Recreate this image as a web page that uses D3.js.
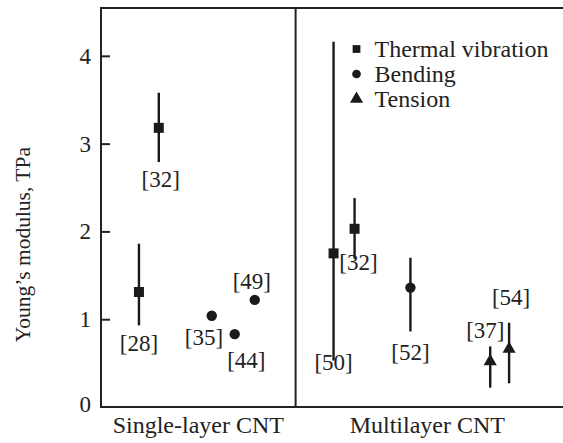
<!DOCTYPE html>
<html>
<head>
<meta charset="utf-8">
<script src="https://cdn.jsdelivr.net/npm/d3@7"></script>
<style>
  body { margin: 0; background: #fff; }
  svg text { font-family: "Liberation Serif", "DejaVu Serif", serif; fill: #222; }
</style>
</head>
<body>
<svg id="chart" width="563" height="443"></svg>
<script>
// measurement points: position along the x axis (0..1 single layer, 1.. multilayer)
var refLabels = ["[28]", "[32]", "[35]", "[44]", "[49]", "[50]", "[32]", "[52]", "[37]", "[54]"];
var methods   = ["thermal", "thermal", "bending", "bending", "bending", "thermal", "thermal", "bending", "tension", "tension"];
var xPos      = [0.195, 0.297, 0.569, 0.687, 0.79, 1.195, 1.303, 1.59, 2.0, 2.097];
var modulus   = [1.31, 3.18, 1.04, 0.83, 1.22, 1.75, 2.03, 1.36, 0.52, 0.66];
var errLow    = [0.93, 2.79, null, null, null, 0.53, 1.69, 0.86, 0.22, 0.27];
var errHigh   = [1.86, 3.58, null, null, null, 4.16, 2.38, 1.70, 0.69, 0.96];
// label offsets (in data units) relative to the point
var labelDx   = [0.0, 0.01, -0.04, 0.06, -0.015, 0.0, 0.02, 0.0, -0.025, 0.01];
var labelDy   = [-0.58, -0.58, -0.24, -0.29, 0.22, -1.24, -0.38, -0.73, 0.36, 0.59];

var categories = ["Single-layer CNT", "Multilayer CNT"];
var categoryX  = [0.5, 1.677];
var yTicks = [0, 1, 2, 3, 4];

var legendItems = [
  {key: "thermal", name: "Thermal vibration"},
  {key: "bending", name: "Bending"},
  {key: "tension", name: "Tension"}
];

var margin = {top: 8, left: 101, bottom: 36, right: 0};
var width = 563, height = 443;

var x = d3.scaleLinear().domain([0, 2.374]).range([margin.left, width - margin.right]);
var y = d3.scaleLinear().domain([0, 4.545]).range([height - margin.bottom, margin.top]);

var svg = d3.select("#chart");

var symbolTypes = {thermal: d3.symbolSquare, bending: d3.symbolCircle, tension: d3.symbolTriangle};
var symbolSizes = {thermal: 100, bending: 85, tension: 75};

// frame: top and bottom lines and the divider
svg.append("line")
  .attr("x1", x(0)).attr("x2", x.range()[1])
  .attr("y1", y.range()[1]).attr("y2", y.range()[1])
  .attr("stroke", "#222").attr("stroke-width", 2);
svg.append("line")
  .attr("x1", x(0)).attr("x2", x.range()[1])
  .attr("y1", y(0)).attr("y2", y(0))
  .attr("stroke", "#222").attr("stroke-width", 2);
svg.append("line")
  .attr("x1", x(1)).attr("x2", x(1))
  .attr("y1", y.range()[1]).attr("y2", y(0))
  .attr("stroke", "#222").attr("stroke-width", 2);

// y axis with inward ticks
var yAxis = d3.axisLeft(y).tickValues(yTicks).tickSize(-9).tickPadding(10).tickFormat(d3.format("d"));
var yg = svg.append("g")
  .attr("transform", "translate(" + x(0) + ",0)")
  .call(yAxis);
yg.select(".domain").remove();
yg.append("line")
  .attr("x1", 0).attr("x2", 0)
  .attr("y1", y.range()[1] - 1).attr("y2", y(0) + 1)
  .attr("stroke", "#222").attr("stroke-width", 2);
yg.selectAll(".tick line").attr("stroke", "#222").attr("stroke-width", 2);
yg.selectAll(".tick").filter(d => d === 0).select("line").remove();
yg.selectAll(".tick text")
  .attr("fill", "#222")
  .style("font-family", "Liberation Serif, serif")
  .style("font-size", "23px");
yg.selectAll(".tick").filter(d => d === 0).select("text").attr("dy", "0.2em");

// y title
svg.append("text")
  .attr("transform", "translate(30," + y(1.85) + ") rotate(-90)")
  .attr("text-anchor", "middle")
  .style("font-size", "21.5px")
  .text("Young\u2019s modulus, TPa");

// category labels
svg.selectAll(".cat").data(categories).enter().append("text")
  .attr("class", "cat")
  .attr("x", (d, i) => x(categoryX[i]))
  .attr("y", height - 10)
  .attr("text-anchor", "middle")
  .style("font-size", "24px")
  .text(d => d);

var pts = refLabels.map((r, i) => ({
  ref: r, method: methods[i], x: xPos[i], v: modulus[i],
  lo: errLow[i], hi: errHigh[i], dx: labelDx[i], dy: labelDy[i]
}));

// error bars
svg.selectAll(".err").data(pts.filter(d => d.lo !== null)).enter().append("line")
  .attr("class", "err")
  .attr("x1", d => x(d.x)).attr("x2", d => x(d.x))
  .attr("y1", d => y(d.lo)).attr("y2", d => y(d.hi))
  .attr("stroke", "#1a1a1a").attr("stroke-width", 2.4);

// markers
svg.selectAll(".pt").data(pts).enter().append("path")
  .attr("class", "pt")
  .attr("transform", d => "translate(" + x(d.x) + "," + y(d.v) + ")")
  .attr("d", d => d3.symbol().type(symbolTypes[d.method]).size(symbolSizes[d.method])())
  .attr("fill", "#1a1a1a");

// reference labels
svg.selectAll(".ref").data(pts).enter().append("text")
  .attr("class", "ref")
  .attr("x", d => x(d.x + d.dx))
  .attr("y", d => y(d.v + d.dy))
  .attr("dy", "0.35em")
  .attr("text-anchor", "middle")
  .style("font-size", "23px")
  .text(d => d.ref);

// legend
var legend = svg.append("g").attr("transform", "translate(" + x(1.313) + "," + 49 + ")");
var li = legend.selectAll("g").data(legendItems).enter().append("g")
  .attr("transform", (d, i) => "translate(0," + (i * 25) + ")");
li.append("path")
  .attr("d", d => d3.symbol().type(symbolTypes[d.key]).size(d.key === "tension" ? 75 : 60)())
  .attr("fill", "#1a1a1a");
li.append("text")
  .attr("x", 18)
  .attr("dy", "0.35em")
  .style("font-size", "24px")
  .text(d => d.name);
</script>
</body>
</html>
